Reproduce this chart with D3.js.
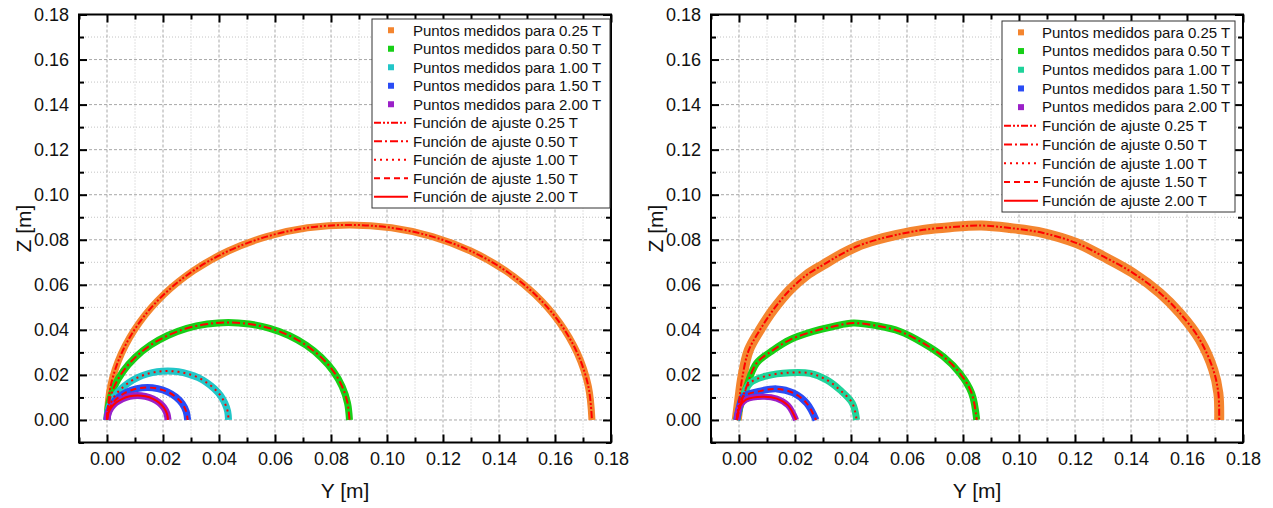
<!DOCTYPE html>
<html>
<head>
<meta charset="utf-8">
<script src="https://cdn.jsdelivr.net/npm/d3@7"></script>
<style>
  body { margin: 0; background: #fff; }
  svg { display: block; font-family: "Liberation Sans", Arial, sans-serif; }
</style>
</head>
<body>
<script>
// ---- data ----
const fields = ["0.25 T", "0.50 T", "1.00 T", "1.50 T", "2.00 T"];
const majorTicks = [0, 0.02, 0.04, 0.06, 0.08, 0.10, 0.12, 0.14, 0.16, 0.18];
const minorTicks = [-0.01, 0.01, 0.03, 0.05, 0.07, 0.09, 0.11, 0.13, 0.15, 0.17];

// left panel: [Y, Z] in metres
const left025 = [[0,0],[0.0013,0.0150],[0.0052,0.0296],[0.0116,0.0433],[0.0203,0.0557],[0.0309,0.0663],[0.0433,0.0750],[0.0570,0.0814],[0.0716,0.0853],[0.0866,0.0866],[0.1016,0.0853],[0.1162,0.0814],[0.1299,0.0750],[0.1423,0.0663],[0.1529,0.0557],[0.1616,0.0433],[0.1680,0.0296],[0.1719,0.0150],[0.1732,0]];
const left050 = [[0,0],[0.0007,0.0075],[0.0026,0.0148],[0.0058,0.0217],[0.0101,0.0278],[0.0155,0.0332],[0.0217,0.0375],[0.0285,0.0407],[0.0358,0.0426],[0.0433,0.0433],[0.0508,0.0426],[0.0581,0.0407],[0.0650,0.0375],[0.0711,0.0332],[0.0765,0.0278],[0.0808,0.0217],[0.0840,0.0148],[0.0859,0.0075],[0.0866,0]];
const left100 = [[0,0],[0.0003,0.0038],[0.0013,0.0074],[0.0029,0.0109],[0.0051,0.0139],[0.0078,0.0166],[0.0109,0.0188],[0.0143,0.0204],[0.0179,0.0214],[0.0217,0.0217],[0.0255,0.0214],[0.0291,0.0204],[0.0326,0.0188],[0.0356,0.0166],[0.0383,0.0139],[0.0405,0.0109],[0.0421,0.0074],[0.0431,0.0038],[0.0434,0]];
const left150 = [[0,0],[0.0005,0.0037],[0.0019,0.0072],[0.0042,0.0102],[0.0072,0.0125],[0.0107,0.0139],[0.0144,0.0144],[0.0181,0.0139],[0.0216,0.0125],[0.0246,0.0102],[0.0269,0.0072],[0.0283,0.0037],[0.0288,0]];
const left200 = [[0,0],[0.0004,0.0028],[0.0015,0.0055],[0.0032,0.0077],[0.0055,0.0094],[0.0081,0.0105],[0.0109,0.0109],[0.0137,0.0105],[0.0164,0.0094],[0.0186,0.0077],[0.0203,0.0055],[0.0214,0.0028],[0.0218,0]];

// right panel: [Y, Z] in metres
const right025 = [[-0.0008,0],[0.0002,0.0100],[0.0012,0.0190],[0.0035,0.0310],[0.0075,0.0400],[0.0123,0.0490],[0.0182,0.0578],[0.0242,0.0644],[0.0301,0.0689],[0.0361,0.0733],[0.0420,0.0770],[0.0492,0.0800],[0.0563,0.0822],[0.0658,0.0844],[0.0754,0.0856],[0.0865,0.0863],[0.0968,0.0852],[0.1087,0.0830],[0.1206,0.0785],[0.1301,0.0726],[0.1408,0.0652],[0.1504,0.0563],[0.1575,0.0474],[0.1646,0.0356],[0.1694,0.0222],[0.1712,0.0119],[0.1715,0]];
const right050 = [[-0.0008,0],[0.0005,0.0065],[0.0027,0.0148],[0.0063,0.0252],[0.0123,0.0311],[0.0182,0.0356],[0.0265,0.0393],[0.0337,0.0415],[0.0408,0.0430],[0.0492,0.0418],[0.0575,0.0393],[0.0658,0.0341],[0.0730,0.0281],[0.0789,0.0207],[0.0831,0.0119],[0.0849,0]];
const right100 = [[-0.0008,0],[0.0008,0.0080],[0.0039,0.0163],[0.0099,0.0196],[0.0182,0.0210],[0.0254,0.0207],[0.0313,0.0178],[0.0361,0.0133],[0.0405,0.0074],[0.0420,0]];
const right150 = [[-0.0008,0],[0.0002,0.0060],[0.0015,0.0104],[0.0075,0.0128],[0.0135,0.0138],[0.0194,0.0120],[0.0242,0.0074],[0.0275,0]];
const right200 = [[-0.0008,0],[0.0003,0.0060],[0.0025,0.0090],[0.0085,0.0103],[0.0135,0.0095],[0.0175,0.0065],[0.0204,0]];

const leftSeries = [left025, left050, left100, left150, left200];
const rightSeries = [right025, right050, right100, right150, right200];

// styles
const leftColors = ["#f4852f", "#17cf17", "#22c6c8", "#2a4cf5", "#9b20c8"];
const rightColors = ["#f4852f", "#17cf17", "#1fd39a", "#2a4cf5", "#9b20c8"];
const fitDashes = ["7,2,2,2,2,2", "8,3,2,3", "2,4", "6,4", null];

const W = 1273, H = 508;
const svg = d3.select("body").append("svg").attr("width", W).attr("height", H);

function drawPanel(cfg) {
    const x = d3.scaleLinear().domain([-0.01, 0.18]).range([cfg.left, cfg.left + 532]);
    const y = d3.scaleLinear().domain([-0.01, 0.18]).range([442.5, 14.5]);
    const g = svg.append("g");

    // grid: dotted minor, dashed major
    const grid = g.append("g");
    grid.selectAll("line.mx").data(minorTicks).join("line")
        .attr("x1", d => x(d)).attr("x2", d => x(d)).attr("y1", y(-0.01)).attr("y2", y(0.18))
        .attr("stroke", "#c4c4c4").attr("stroke-dasharray", "1,2");
    grid.selectAll("line.my").data(minorTicks).join("line")
        .attr("y1", d => y(d)).attr("y2", d => y(d)).attr("x1", x(-0.01)).attr("x2", x(0.18))
        .attr("stroke", "#c4c4c4").attr("stroke-dasharray", "1,2");
    grid.selectAll("line.Mx").data(majorTicks).join("line")
        .attr("x1", d => x(d)).attr("x2", d => x(d)).attr("y1", y(-0.01)).attr("y2", y(0.18))
        .attr("stroke", "#a8a8a8").attr("stroke-dasharray", "3,2");
    grid.selectAll("line.My").data(majorTicks).join("line")
        .attr("y1", d => y(d)).attr("y2", d => y(d)).attr("x1", x(-0.01)).attr("x2", x(0.18))
        .attr("stroke", "#a8a8a8").attr("stroke-dasharray", "3,2");

    const line = d3.line().x(d => x(d[0])).y(d => y(d[1])).curve(d3.curveCatmullRom);

    // measured points as thick bands
    g.selectAll("path.band").data(cfg.series).join("path")
        .attr("class", "band")
        .attr("d", line)
        .attr("fill", "none")
        .attr("stroke", (d, i) => cfg.colors[i])
        .attr("stroke-width", (d, i) => cfg.bandWidths[i])
        .attr("stroke-linejoin", "round");

    // fit functions on top
    g.selectAll("path.fit").data(cfg.series).join("path")
        .attr("class", "fit")
        .attr("d", line)
        .attr("fill", "none")
        .attr("stroke", "#ff0000")
        .attr("stroke-width", 2)
        .attr("stroke-dasharray", (d, i) => fitDashes[i]);

    // axes: ticks point inwards on all four sides
    const fmt = d3.format(".2f");
    const axes = [
        [d3.axisBottom(x), `translate(0,${y(-0.01)})`, true],
        [d3.axisTop(x), `translate(0,${y(0.18)})`, false],
        [d3.axisLeft(y), `translate(${x(-0.01)},0)`, true],
        [d3.axisRight(y), `translate(${x(0.18)},0)`, false]
    ];
    axes.forEach(([ax, tr, labels]) => {
        const major = g.append("g").attr("transform", tr)
            .call(ax.tickValues(majorTicks).tickSizeInner(-8).tickSizeOuter(0)
                .tickPadding(10).tickFormat(labels ? fmt : ""));
        major.select(".domain").remove();
        major.selectAll("line").attr("stroke", "#000").attr("stroke-width", 2);
        major.selectAll("text").attr("font-size", 18).attr("fill", "#111")
            .attr("font-family", "Liberation Sans, Arial, sans-serif");
        const minor = g.append("g").attr("transform", tr)
            .call(ax.tickValues(minorTicks).tickSizeInner(-5).tickFormat(""));
        minor.select(".domain").remove();
        minor.selectAll("line").attr("stroke", "#000").attr("stroke-width", 2);
    });

    // frame
    g.append("rect")
        .attr("x", x(-0.01)).attr("y", y(0.18))
        .attr("width", x(0.18) - x(-0.01)).attr("height", y(-0.01) - y(0.18))
        .attr("fill", "none").attr("stroke", "#000").attr("stroke-width", 2);

    // axis titles
    g.append("text")
        .attr("x", (x(-0.01) + x(0.18)) / 2).attr("y", 498)
        .attr("text-anchor", "middle").attr("font-size", 21).attr("fill", "#111")
        .text("Y [m]");
    g.append("text")
        .attr("transform", `translate(${cfg.left - 48},${(y(-0.01) + y(0.18)) / 2}) rotate(-90)`)
        .attr("text-anchor", "middle").attr("font-size", 21).attr("fill", "#111")
        .text("Z [m]");

    // legend
    const lg = g.append("g").attr("transform", `translate(${cfg.legX},${cfg.legY})`);
    lg.append("rect")
        .attr("width", cfg.legW).attr("height", cfg.legStep * 10 + 4)
        .attr("fill", "#fff").attr("stroke", "#333").attr("stroke-width", 1);
    fields.forEach((f, i) => {
        const cy = cfg.legStep * (i + 0.5) + 2;
        lg.append("rect")
            .attr("x", 16).attr("y", cy - 3).attr("width", 6).attr("height", 6)
            .attr("fill", cfg.colors[i]);
        lg.append("text")
            .attr("x", cfg.textX).attr("y", cy).attr("dy", "0.35em")
            .attr("font-size", 15).attr("fill", "#111")
            .text(`Puntos medidos para ${f}`);
    });
    fields.forEach((f, i) => {
        const cy = cfg.legStep * (i + 5.5) + 2;
        lg.append("line")
            .attr("x1", 2).attr("x2", 36).attr("y1", cy).attr("y2", cy)
            .attr("stroke", "#ff0000").attr("stroke-width", 2)
            .attr("stroke-dasharray", fitDashes[i]);
        lg.append("text")
            .attr("x", cfg.textX).attr("y", cy).attr("dy", "0.35em")
            .attr("font-size", 15).attr("fill", "#111")
            .text(`Función de ajuste ${f}`);
    });
}

drawPanel({
    left: 79, series: leftSeries, colors: leftColors,
    bandWidths: [7, 7, 7, 7, 7],
    legX: 372, legY: 19, legW: 238, legStep: 18.5, textX: 41
});
drawPanel({
    left: 711, series: rightSeries, colors: rightColors,
    bandWidths: [10, 7, 7, 7, 6],
    legX: 1002, legY: 21, legW: 233, legStep: 18.7, textX: 40
});
</script>
</body>
</html>
